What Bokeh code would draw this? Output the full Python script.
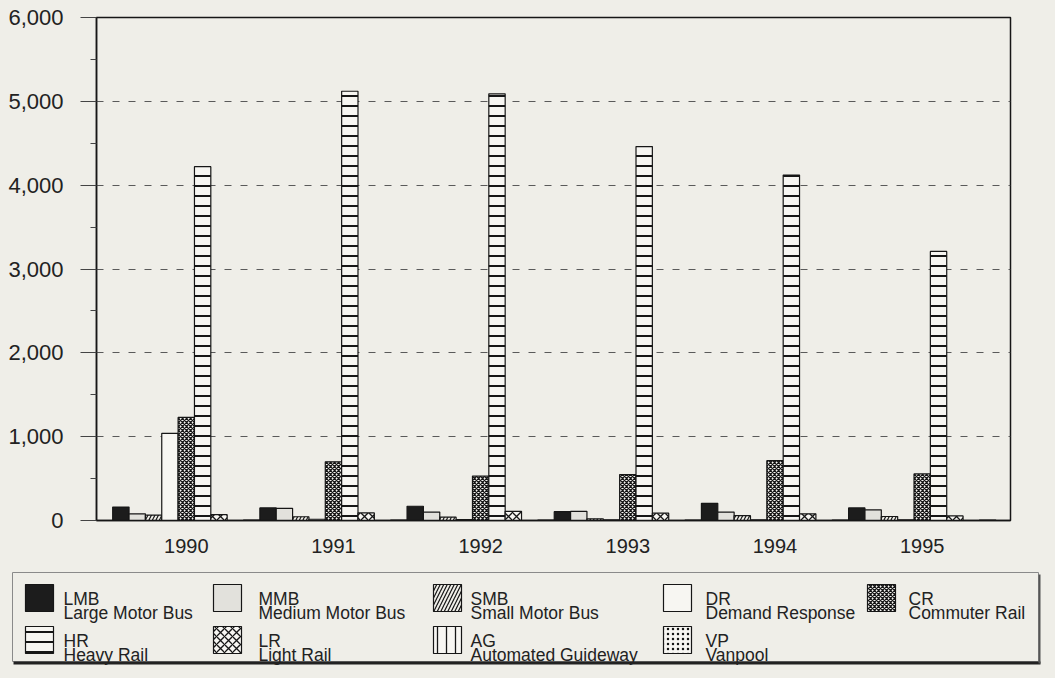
from bokeh.plotting import figure
from bokeh.models import Range1d, FixedTicker, ColumnDataSource, NumeralTickFormatter
from bokeh.embed import file_html
from bokeh.resources import INLINE
from bokeh.core.properties import value

# ---------------- data ----------------
years = ["1990", "1991", "1992", "1993", "1994", "1995"]
codes = ["LMB", "MMB", "SMB", "DR", "CR", "HR", "LR", "AG", "VP"]
names = ["Large Motor Bus", "Medium Motor Bus", "Small Motor Bus", "Demand Response",
         "Commuter Rail", "Heavy Rail", "Light Rail", "Automated Guideway", "Vanpool"]
lmb = [160, 150, 170, 105, 205, 150]
mmb = [80, 145, 100, 110, 100, 127]
smb = [65, 45, 40, 20, 58, 48]
dr = [1040, 15, 10, 8, 8, 8]
cr = [1230, 700, 530, 548, 714, 556]
hr = [4220, 5120, 5090, 4460, 4120, 3210]
lr = [70, 90, 110, 87, 80, 55]
ag = [0, 0, 0, 0, 0, 0]
vp = [5, 5, 5, 5, 5, 5]
series = [lmb, mmb, smb, dr, cr, hr, lr, ag, vp]
y_ticks = [0, 1000, 2000, 3000, 4000, 5000, 6000]

BG = "#efeee8"
INK = "#161616"
FONT = value("Liberation Sans")

styles = [
    dict(fill_color="#1c1c1c"),
    dict(fill_color="#e2e1dc"),
    dict(fill_color=BG, hatch_pattern="/", hatch_scale=7, hatch_weight=1.2, hatch_color=INK),
    dict(fill_color="#f7f6f2"),
    dict(fill_color="#f7f6f2", hatch_pattern="x", hatch_scale=4, hatch_weight=1.3, hatch_color=INK),
    dict(fill_color="#f7f6f2", hatch_pattern="-", hatch_scale=10, hatch_weight=2, hatch_color=INK),
    dict(fill_color="#f7f6f2", hatch_pattern="x", hatch_scale=8, hatch_weight=1.3, hatch_color=INK),
    dict(fill_color="#f7f6f2", hatch_pattern="|", hatch_scale=9, hatch_weight=1.3, hatch_color=INK),
    dict(fill_color="#f7f6f2", hatch_pattern=".", hatch_scale=5, hatch_weight=1, hatch_color=INK),
]

nser = len(codes)
bw = 1.0 / nser

# ---------------- chart ----------------
p = figure(width=1055, height=556, x_range=Range1d(-0.61, 5.6), y_range=Range1d(0, 6000),
           min_border_left=96, min_border_right=45, min_border_top=17, min_border_bottom=36,
           toolbar_location=None, output_backend="svg", title=None)
p.background_fill_color = BG
p.border_fill_color = BG
p.outline_line_color = INK
p.outline_line_width = 1.5

for j, (vals, st) in enumerate(zip(series, styles)):
    xs = [i + (j - (nser - 1) / 2) * bw for i in range(len(years))]
    src = ColumnDataSource(dict(x=xs, top=vals))
    p.vbar(x="x", top="top", bottom=0, width=bw, source=src,
           line_color=INK, line_width=1.2, **st)

p.xgrid.visible = False
p.ygrid.grid_line_color = "#5a5a5a"
p.ygrid.grid_line_dash = "7 9"
p.ygrid.grid_line_width = 1
p.ygrid.ticker = FixedTicker(ticks=y_ticks[1:-1])

p.xaxis.ticker = FixedTicker(ticks=list(range(len(years))))
p.xaxis.major_label_overrides = {i: y for i, y in enumerate(years)}
p.xaxis.major_tick_line_color = None
p.xaxis.minor_tick_line_color = None
p.xaxis.axis_line_color = INK
p.xaxis.axis_line_width = 1.5
p.xaxis.major_label_text_font = "Liberation Sans"
p.xaxis.major_label_text_font_size = "20px"
p.xaxis.major_label_text_color = "#222"
p.xaxis.major_label_standoff = 12

p.yaxis.ticker = FixedTicker(ticks=y_ticks, minor_ticks=list(range(500, 6000, 1000)))
p.yaxis.formatter = NumeralTickFormatter(format="0,0")
p.yaxis.axis_line_color = INK
p.yaxis.axis_line_width = 1.5
p.yaxis.major_tick_out = 16
p.yaxis.major_tick_in = 0
p.yaxis.minor_tick_out = 6
p.yaxis.minor_tick_in = 0
p.yaxis.major_tick_line_color = "#444"
p.yaxis.minor_tick_line_color = "#444"
p.yaxis.major_label_text_font = "Liberation Sans"
p.yaxis.major_label_text_font_size = "22px"
p.yaxis.major_label_text_color = "#222"
p.yaxis.major_label_standoff = 17

# ---------------- legend ----------------
LH = 110
L = figure(width=1055, height=LH, x_range=Range1d(0, 1055), y_range=Range1d(LH, 0),
           min_border=0, toolbar_location=None, output_backend="svg", title=None,
           x_axis_location=None, y_axis_location=None)
L.background_fill_color = BG
L.border_fill_color = BG
L.outline_line_color = None
L.grid.visible = False

L.quad(left=[12], right=[1038], top=[16], bottom=[105], fill_color=BG,
       line_color="#8a8a8a", line_width=1)
L.segment(x0=[13], y0=[106.5], x1=[1040], y1=[106.5], line_color="#222", line_width=3)
L.segment(x0=[1039], y0=[18], x1=[1039], y1=[107], line_color="#555", line_width=2)

col_sw = [25, 213, 433, 663, 867]
col_tx = [63, 258, 470, 705, 908]
row_top = [28, 70]
row_base = [42, 84]
for k in range(nser):
    r, c = divmod(k, 5)
    sx, tx = col_sw[c], col_tx[c]
    L.quad(left=[sx], right=[sx + 28], top=[row_top[r]], bottom=[row_top[r] + 27],
           line_color=INK, line_width=1.2, **styles[k])
    L.text(x=[tx, tx], y=[row_base[r], row_base[r] + 14], text=[codes[k], names[k]],
           text_font=FONT, text_font_size="17.5px", text_color="#222",
           text_baseline="alphabetic", text_align="left")

html = file_html([p, L], INLINE)
css = ("<style>html,body{background:%s;margin:0;padding:0;line-height:0;overflow:hidden;}"
       "body>div{display:block;line-height:0;}</style>") % BG
html = html.replace("<head>", "<head>" + css, 1)
open("out.html", "w").write(html)
